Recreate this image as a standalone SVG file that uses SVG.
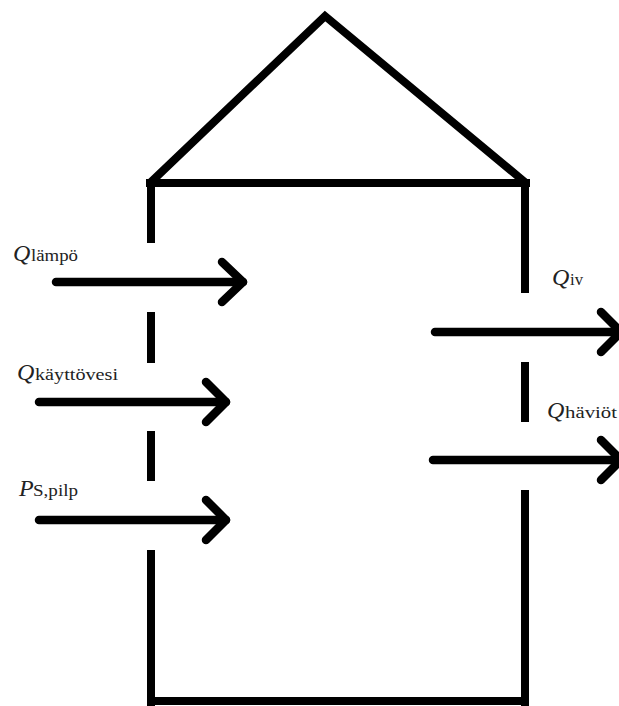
<svg xmlns="http://www.w3.org/2000/svg" width="619" height="706" viewBox="0 0 619 706">
<style>
.w{stroke:#000;stroke-width:8;fill:none;stroke-linecap:butt}
.a{stroke:#000;stroke-width:8.5;fill:none;stroke-linecap:round;stroke-linejoin:round}
.m{font-family:"Liberation Serif","Times New Roman",serif;font-style:italic;font-size:24px;fill:#222}
.s{font-family:"Liberation Serif","Times New Roman",serif;font-size:16px;fill:#222}
</style>
<rect width="619" height="706" fill="#fff"/>
<g id="tank">
<polyline class="w" points="150,183 325,16 526,183"/>
<line class="w" x1="146" y1="183" x2="530" y2="183"/>
<line class="w" x1="151" y1="179" x2="151" y2="243"/>
<line class="w" x1="151" y1="312" x2="151" y2="363"/>
<line class="w" x1="151" y1="431" x2="151" y2="481"/>
<line class="w" x1="151" y1="550" x2="151" y2="706"/>
<line class="w" x1="525" y1="179" x2="525" y2="293"/>
<line class="w" x1="525" y1="362" x2="525" y2="422"/>
<line class="w" x1="525" y1="490" x2="525" y2="706"/>
<line class="w" x1="147" y1="701" x2="529" y2="701"/>
</g>
<g id="connectors">
<g id="arrow-lampo"><line class="a" x1="56" y1="282" x2="243" y2="282"/><polyline class="a" points="222,262 243,282 222,302"/></g>
<g id="arrow-kayttovesi"><line class="a" x1="39" y1="402" x2="226" y2="402"/><polyline class="a" points="206,382 226,402 206,422"/></g>
<g id="arrow-pilp"><line class="a" x1="39" y1="520" x2="226" y2="520"/><polyline class="a" points="206,500 226,520 206,540"/></g>
<g id="arrow-iv"><line class="a" x1="435" y1="332" x2="619" y2="332"/><polyline class="a" points="601,312 621,332 601,352"/></g>
<g id="arrow-haviot"><line class="a" x1="433" y1="460" x2="619" y2="460"/><polyline class="a" points="601,440 621,460 601,480"/></g>
</g>
<g id="label-lampo"><text class="m" x="13" y="261">Q</text><text class="s" x="31" y="261" textLength="47" lengthAdjust="spacingAndGlyphs">lämpö</text></g>
<g id="label-kayttovesi"><text class="m" x="17" y="380">Q</text><text class="s" x="35" y="380" textLength="83" lengthAdjust="spacingAndGlyphs">käyttövesi</text></g>
<g id="label-pilp"><text class="m" x="19" y="496">P</text><text class="s" x="33" y="496" textLength="45" lengthAdjust="spacingAndGlyphs">S,pilp</text></g>
<g id="label-iv"><text class="m" x="552" y="285">Q</text><text class="s" x="570" y="285" textLength="13" lengthAdjust="spacingAndGlyphs">iv</text></g>
<g id="label-haviot"><text class="m" x="547" y="418">Q</text><text class="s" x="565" y="418" textLength="52" lengthAdjust="spacingAndGlyphs">häviöt</text></g>
</svg>
